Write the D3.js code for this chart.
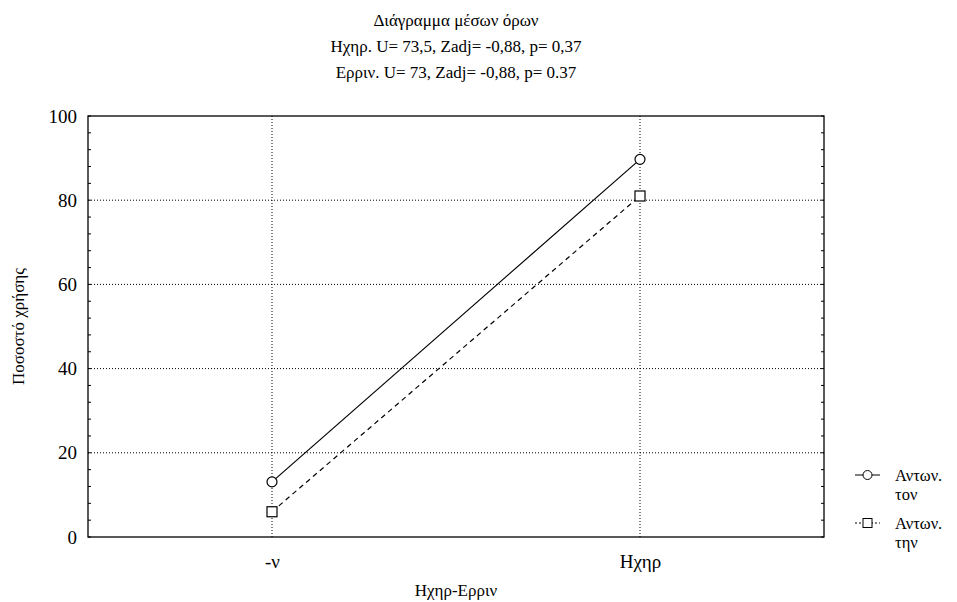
<!DOCTYPE html>
<html>
<head>
<meta charset="utf-8">
<script src="https://cdn.jsdelivr.net/npm/d3@7"></script>
</head>
<body style="margin:0">
<div id="chart"></div>
<script>
// chart data
const categories = ["-ν", "Ηχηρ"];
const seriesNames = [["Αντων.", "τον"], ["Αντων.", "την"]];
const tonValues = [13.1, 89.7];
const tinValues = [6.0, 81.0];
const yTicks = [0, 20, 40, 60, 80, 100];
const titleLines = [
  "Διάγραμμα μέσων όρων",
  "Ηχηρ. U= 73,5, Zadj= -0,88, p= 0,37",
  "Ερριν. U= 73, Zadj= -0,88, p= 0.37"
];

const width = 957, height = 602;
const plotLeft = 88, plotRight = 824, plotTop = 116, plotBottom = 537;

const svg = d3.select("#chart").append("svg")
  .attr("width", width)
  .attr("height", height)
  .style("font-family", "'Liberation Serif'");

const xScale = d3.scalePoint()
  .domain(categories)
  .range([plotLeft, plotRight])
  .padding(0.5);

const yScale = d3.scaleLinear()
  .domain([0, 100])
  .range([plotBottom, plotTop]);

// helper so every label uses the Times-like face
function label(sel, size) {
  return sel.style("font-family", "'Liberation Serif'").style("font-size", size + "px");
}

// grid lines (dotted)
svg.append("g")
  .selectAll("line")
  .data(yTicks.filter(d => d > 0 && d < 100))
  .enter().append("line")
  .attr("x1", plotLeft).attr("x2", plotRight)
  .attr("y1", d => yScale(d)).attr("y2", d => yScale(d))
  .attr("stroke", "#000")
  .attr("stroke-dasharray", "1,2");

svg.append("g")
  .selectAll("line")
  .data(categories)
  .enter().append("line")
  .attr("x1", d => xScale(d)).attr("x2", d => xScale(d))
  .attr("y1", plotTop).attr("y2", plotBottom)
  .attr("stroke", "#000")
  .attr("stroke-dasharray", "1,2");

// left axis
const yAxis = svg.append("g")
  .attr("transform", `translate(${plotLeft}, 0)`)
  .call(d3.axisLeft(yScale).tickValues(yTicks).tickSize(0).tickPadding(11));
yAxis.select(".domain").remove();
label(yAxis.selectAll("text"), 19).attr("fill", "#000");

// minor ticks inside the frame (left and right)
const minor = d3.range(0, 101, 4);
svg.append("g")
  .selectAll("line")
  .data(minor)
  .enter().append("line")
  .attr("x1", plotLeft).attr("x2", plotLeft + 3)
  .attr("y1", d => yScale(d)).attr("y2", d => yScale(d))
  .attr("stroke", "#000");
svg.append("g")
  .selectAll("line")
  .data(minor)
  .enter().append("line")
  .attr("x1", plotRight).attr("x2", plotRight - 3)
  .attr("y1", d => yScale(d)).attr("y2", d => yScale(d))
  .attr("stroke", "#000");

// bottom axis labels
const xAxis = svg.append("g")
  .attr("transform", `translate(0, ${plotBottom})`)
  .call(d3.axisBottom(xScale).tickSize(0).tickPadding(18));
xAxis.select(".domain").remove();
label(xAxis.selectAll("text"), 19).attr("fill", "#000");

// frame
svg.append("rect")
  .attr("x", plotLeft).attr("y", plotTop)
  .attr("width", plotRight - plotLeft).attr("height", plotBottom - plotTop)
  .attr("fill", "none")
  .attr("stroke", "#000")
  .attr("stroke-width", 1.3);

// lines
const line = d3.line()
  .x((d, i) => xScale(categories[i]))
  .y(d => yScale(d));

svg.append("path")
  .datum(tonValues)
  .attr("d", line)
  .attr("fill", "none")
  .attr("stroke", "#000")
  .attr("stroke-width", 1.2);

svg.append("path")
  .datum(tinValues)
  .attr("d", line)
  .attr("fill", "none")
  .attr("stroke", "#000")
  .attr("stroke-width", 1.2)
  .attr("stroke-dasharray", "5,4");

// markers
svg.append("g")
  .selectAll("circle")
  .data(tonValues)
  .enter().append("circle")
  .attr("cx", (d, i) => xScale(categories[i]))
  .attr("cy", d => yScale(d))
  .attr("r", 5)
  .attr("fill", "#fff")
  .attr("stroke", "#000")
  .attr("stroke-width", 1.2);

svg.append("g")
  .selectAll("rect")
  .data(tinValues)
  .enter().append("rect")
  .attr("x", (d, i) => xScale(categories[i]) - 5)
  .attr("y", d => yScale(d) - 5)
  .attr("width", 10).attr("height", 10)
  .attr("fill", "#fff")
  .attr("stroke", "#000")
  .attr("stroke-width", 1.2);

// titles
label(svg.append("g")
  .selectAll("text")
  .data(titleLines)
  .enter().append("text")
  .attr("x", (plotLeft + plotRight) / 2)
  .attr("y", (d, i) => 26 + i * 26)
  .attr("text-anchor", "middle")
  .text(d => d), 17);

// axis titles
label(svg.append("text")
  .attr("x", (plotLeft + plotRight) / 2)
  .attr("y", 596)
  .attr("text-anchor", "middle")
  .text("Ηχηρ-Ερριν"), 17);

label(svg.append("text")
  .attr("transform", "rotate(-90)")
  .attr("x", -(plotTop + plotBottom) / 2)
  .attr("y", 24)
  .attr("text-anchor", "middle")
  .text("Ποσοστό χρήσης"), 17);

// legend
const legend = svg.append("g").attr("transform", "translate(855, 475)");
const legendItems = legend.selectAll(".legend-item")
  .data(seriesNames)
  .enter().append("g")
  .attr("class", "legend-item")
  .attr("transform", (d, i) => `translate(0, ${i * 48})`);

legendItems.append("line")
  .attr("x1", 0).attr("x2", 25)
  .attr("y1", 0).attr("y2", 0)
  .attr("stroke", "#000")
  .attr("stroke-dasharray", (d, i) => i === 0 ? null : "2,2");

legendItems.filter((d, i) => i === 0).append("circle")
  .attr("cx", 12.5).attr("cy", 0).attr("r", 4.5)
  .attr("fill", "#fff").attr("stroke", "#000");

legendItems.filter((d, i) => i === 1).append("rect")
  .attr("x", 8).attr("y", -4.5).attr("width", 9).attr("height", 9)
  .attr("fill", "#fff").attr("stroke", "#000");

label(legendItems.append("text")
  .attr("x", 40).attr("y", 6)
  .text(d => d[0]), 16.5);
label(legendItems.append("text")
  .attr("x", 40).attr("y", 25)
  .text(d => d[1]), 16.5);
</script>
</body>
</html>
